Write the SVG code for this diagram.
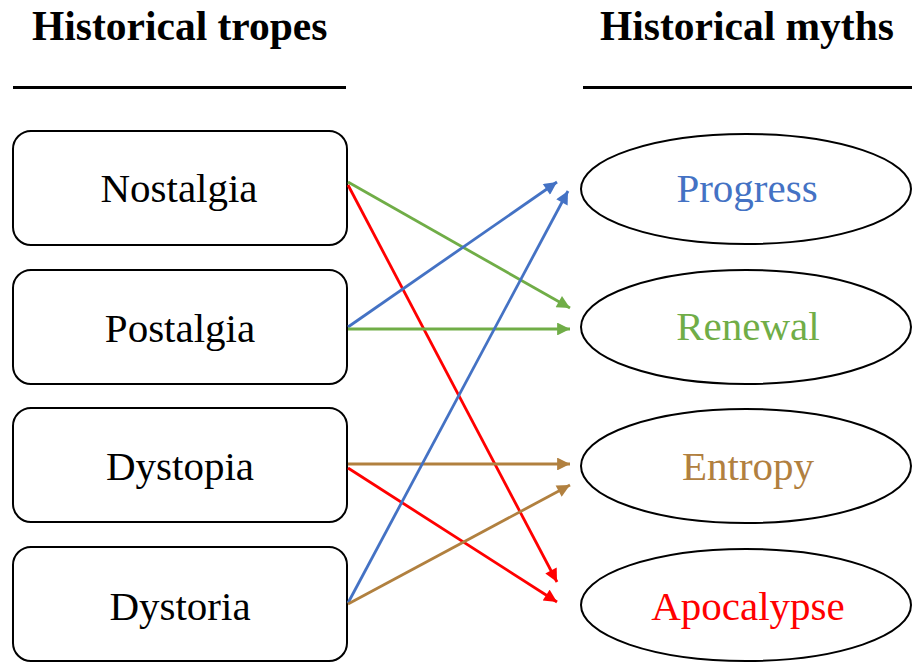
<svg xmlns="http://www.w3.org/2000/svg" width="912" height="662" viewBox="0 0 912 662">
<style>
.hdr{font-family:"Liberation Serif","Times New Roman",serif;font-weight:bold;font-size:41.5px;fill:#000}
.lbl{font-family:"Liberation Serif","Times New Roman",serif;font-size:41px;text-anchor:middle}
.box{fill:#fff;stroke:#000;stroke-width:2}
.ell{fill:#fff;stroke:#000;stroke-width:2}
.c{fill:none;stroke-width:2.8}
</style>
<defs>
<marker id="aB" viewBox="0 0 10 10" refX="10" refY="5" markerWidth="5.2" markerHeight="4.6" orient="auto" markerUnits="strokeWidth"><path d="M0,0L10,5L0,10z" fill="#4472C4"/></marker>
<marker id="aG" viewBox="0 0 10 10" refX="10" refY="5" markerWidth="5.2" markerHeight="4.6" orient="auto" markerUnits="strokeWidth"><path d="M0,0L10,5L0,10z" fill="#70AD47"/></marker>
<marker id="aR" viewBox="0 0 10 10" refX="10" refY="5" markerWidth="5.2" markerHeight="4.6" orient="auto" markerUnits="strokeWidth"><path d="M0,0L10,5L0,10z" fill="#FF0000"/></marker>
<marker id="aN" viewBox="0 0 10 10" refX="10" refY="5" markerWidth="5.2" markerHeight="4.6" orient="auto" markerUnits="strokeWidth"><path d="M0,0L10,5L0,10z" fill="#B1803F"/></marker>
</defs>
<g id="headers">
<text class="hdr" x="32" y="40">Historical tropes</text>
<text class="hdr" x="600" y="40">Historical myths</text>
<rect x="13" y="86" width="333" height="3" fill="#000"/>
<rect x="583" y="86" width="329" height="3" fill="#000"/>
</g>
<g id="nostalgia"><rect class="box" x="13" y="131" width="334" height="114" rx="18"/><text class="lbl" x="179" y="202">Nostalgia</text></g>
<g id="postalgia"><rect class="box" x="13" y="270" width="334" height="114" rx="18"/><text class="lbl" x="180" y="342">Postalgia</text></g>
<g id="dystopia"><rect class="box" x="13" y="408" width="334" height="114" rx="18"/><text class="lbl" x="180" y="480">Dystopia</text></g>
<g id="dystoria"><rect class="box" x="13" y="547" width="334" height="114" rx="18"/><text class="lbl" x="180" y="620">Dystoria</text></g>
<g id="progress"><ellipse class="ell" cx="746" cy="189" rx="165" ry="55"/><text class="lbl" x="747" y="202" fill="#4472C4">Progress</text></g>
<g id="renewal"><ellipse class="ell" cx="746" cy="327" rx="165" ry="57"/><text class="lbl" x="748" y="340" fill="#70AD47">Renewal</text></g>
<g id="entropy"><ellipse class="ell" cx="746" cy="466" rx="165" ry="57"/><text class="lbl" x="748" y="480" fill="#B1803F">Entropy</text></g>
<g id="apocalypse"><ellipse class="ell" cx="746" cy="605" rx="165" ry="56"/><text class="lbl" x="748" y="620" fill="#FF0000">Apocalypse</text></g>
<g id="connectors">
<line class="c" x1="348" y1="182" x2="570" y2="308" stroke="#70AD47" marker-end="url(#aG)"/>
<line class="c" x1="348" y1="185" x2="557" y2="582" stroke="#FF0000" marker-end="url(#aR)"/>
<line class="c" x1="348" y1="327" x2="557" y2="182" stroke="#4472C4" marker-end="url(#aB)"/>
<line class="c" x1="348" y1="329" x2="570" y2="329" stroke="#70AD47" marker-end="url(#aG)"/>
<line class="c" x1="348" y1="464" x2="570" y2="464" stroke="#B1803F" marker-end="url(#aN)"/>
<line class="c" x1="348" y1="468" x2="557" y2="602" stroke="#FF0000" marker-end="url(#aR)"/>
<line class="c" x1="348" y1="603" x2="568" y2="191" stroke="#4472C4" marker-end="url(#aB)"/>
<line class="c" x1="348" y1="604" x2="570" y2="485" stroke="#B1803F" marker-end="url(#aN)"/>
</g>
</svg>
